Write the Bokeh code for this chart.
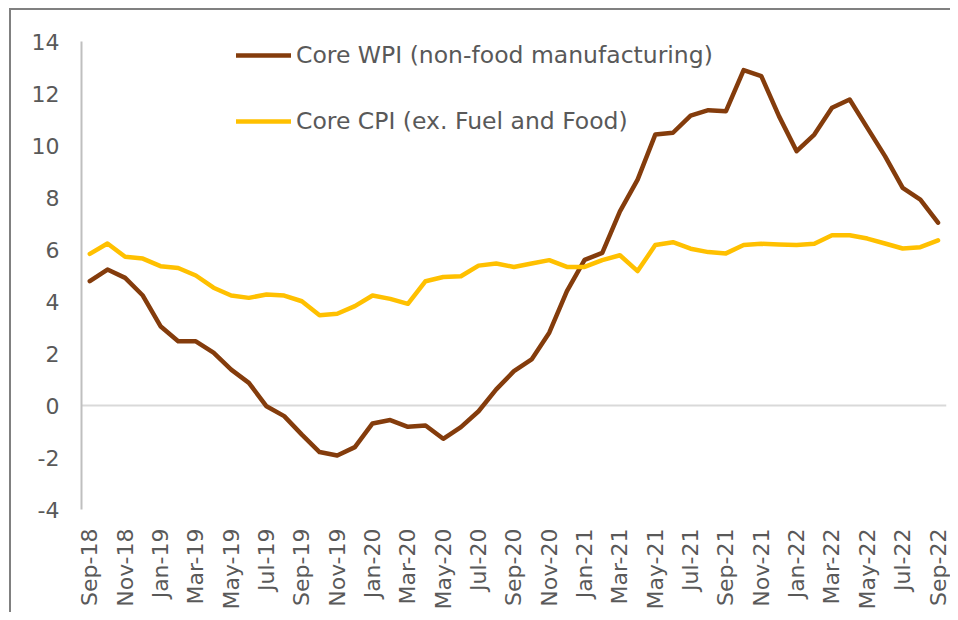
import math
from bokeh.plotting import figure
from bokeh.models import Range1d, FixedTicker, Span, Legend, LegendItem
from bokeh.embed import file_html
from bokeh.resources import INLINE

months = [
    "Sep-18", "Oct-18", "Nov-18", "Dec-18",
    "Jan-19", "Feb-19", "Mar-19", "Apr-19", "May-19", "Jun-19",
    "Jul-19", "Aug-19", "Sep-19", "Oct-19", "Nov-19", "Dec-19",
    "Jan-20", "Feb-20", "Mar-20", "Apr-20", "May-20", "Jun-20",
    "Jul-20", "Aug-20", "Sep-20", "Oct-20", "Nov-20", "Dec-20",
    "Jan-21", "Feb-21", "Mar-21", "Apr-21", "May-21", "Jun-21",
    "Jul-21", "Aug-21", "Sep-21", "Oct-21", "Nov-21", "Dec-21",
    "Jan-22", "Feb-22", "Mar-22", "Apr-22", "May-22", "Jun-22",
    "Jul-22", "Aug-22", "Sep-22",
]

core_wpi = [
    4.78, 5.23, 4.91, 4.23,
    3.05, 2.47, 2.47, 2.03, 1.38, 0.87,
    -0.03, -0.41, -1.12, -1.79, -1.92, -1.60,
    -0.69, -0.56, -0.82, -0.77, -1.28, -0.83,
    -0.22, 0.62, 1.32, 1.77, 2.80, 4.40,
    5.60, 5.87, 7.47, 8.69, 10.42, 10.49,
    11.15, 11.36, 11.32, 12.90, 12.67, 11.13,
    9.78, 10.42, 11.45, 11.77, 10.68, 9.59,
    8.37, 7.92, 7.03,
]

core_cpi = [
    5.83, 6.23, 5.72, 5.65,
    5.36, 5.29, 5.00, 4.53, 4.23, 4.14,
    4.27, 4.23, 4.01, 3.47, 3.53, 3.82,
    4.23, 4.10, 3.91, 4.78, 4.94, 4.97,
    5.38, 5.46, 5.33, 5.46, 5.59, 5.33,
    5.33, 5.59, 5.78, 5.17, 6.17, 6.28,
    6.03, 5.90, 5.85, 6.17, 6.22, 6.19,
    6.17, 6.22, 6.55, 6.55, 6.42, 6.23,
    6.04, 6.09, 6.35,
]

y_ticks = [-4, -2, 0, 2, 4, 6, 8, 10, 12, 14]
y_tick_labels = ["-4", "-2", "0", "2", "4", "6", "8", "10", "12", "14"]
series_names = ["Core WPI (non-food manufacturing)", "Core CPI (ex. Fuel and Food)"]
series_colors = ["#843C0C", "#FFC000"]

FONT = "DejaVu Sans"
TXT = "#595959"
FS = "22px"

x = list(range(len(months)))
label_idx = x[::2]

p = figure(
    width=950, height=612,
    x_range=Range1d(-0.47, len(months) - 1 + 0.48),
    y_range=Range1d(y_ticks[0], y_ticks[-1]),
    output_backend="svg", toolbar_location=None,
    min_border_left=81, min_border_right=4, min_border_top=41, min_border_bottom=103,
)
p.outline_line_color = None
p.background_fill_color = "white"
p.border_fill_color = None
# outer chart border: only its top and left edges fall inside the picture
p.styles = {
    "background-color": "white",
    "background-image": "linear-gradient(#808080, #808080), linear-gradient(#808080, #808080)",
    "background-size": "100% 2px, 2px 100%",
    "background-position": "9px 8px, 9px 8px",
    "background-repeat": "no-repeat",
}
p.xgrid.visible = False
p.ygrid.visible = False

zero = Span(location=0, dimension="width", line_color="#d9d9d9", line_width=2, level="underlay")
p.add_layout(zero)

r1 = p.line(x, core_wpi, line_color=series_colors[0], line_width=4.5, line_join="round", line_cap="round")
r2 = p.line(x, core_cpi, line_color=series_colors[1], line_width=4.5, line_join="round", line_cap="round")

# y axis
p.yaxis.ticker = FixedTicker(ticks=y_ticks)
p.yaxis.major_label_overrides = dict(zip(y_ticks, y_tick_labels))
p.yaxis.axis_line_color = "#bfbfbf"
p.yaxis.axis_line_width = 2
p.yaxis.major_tick_line_color = None
p.yaxis.minor_tick_line_color = None
p.yaxis.major_tick_out = 0
p.yaxis.major_tick_in = 0
p.yaxis.major_label_standoff = 22
p.yaxis.major_label_text_font = FONT
p.yaxis.major_label_text_font_size = FS
p.yaxis.major_label_text_color = TXT

# x axis
p.xaxis.ticker = FixedTicker(ticks=label_idx)
p.xaxis.major_label_overrides = {i: months[i] for i in label_idx}
p.xaxis.major_label_orientation = math.pi / 2
p.xaxis.axis_line_color = None
p.xaxis.major_tick_line_color = None
p.xaxis.minor_tick_line_color = None
p.xaxis.major_tick_out = 0
p.xaxis.major_tick_in = 0
p.xaxis.major_label_standoff = 19
p.xaxis.major_label_text_font = FONT
p.xaxis.major_label_text_font_size = FS
p.xaxis.major_label_text_color = TXT

legend = Legend(
    items=[LegendItem(label=series_names[0], renderers=[r1]),
           LegendItem(label=series_names[1], renderers=[r2])],
    location=(155, 374),
    orientation="vertical",
    glyph_width=55, glyph_height=28, label_height=28,
    spacing=38, padding=0, margin=0, label_standoff=5,
    border_line_color=None, background_fill_alpha=0,
    label_text_font=FONT, label_text_font_size="23.5px", label_text_color=TXT,
)
p.add_layout(legend)

open("out.html", "w").write(file_html(p, INLINE))
